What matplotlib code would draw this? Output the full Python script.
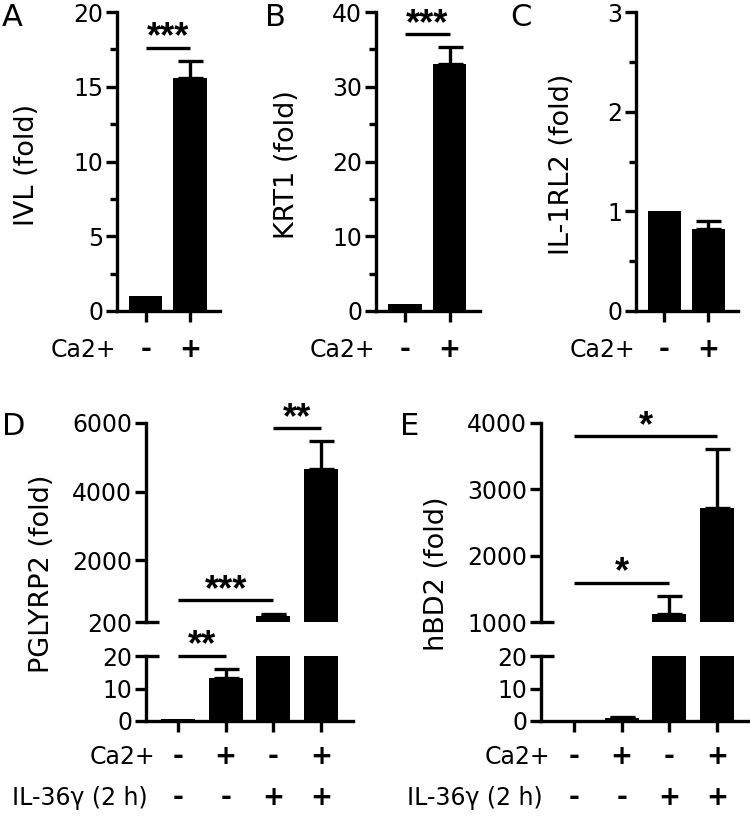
import matplotlib
matplotlib.use("Agg")
import matplotlib.pyplot as plt
import numpy as np

plt.rcParams['font.family'] = ['DejaVu Sans']

# ---- data ----
ca_top = ["-", "+"]

ivl_vals = [1.0, 15.6]
ivl_err = [0.0, 1.15]

krt1_vals = [0.9, 33.0]
krt1_err = [0.0, 2.3]

il1rl2_vals = [1.0, 0.82]
il1rl2_err = [0.0, 0.08]

ca_bottom = ["-", "+", "-", "+"]
il36_bottom = ["-", "-", "+", "+"]

pglyrp2_vals = [0.5, 13.2, 370.0, 4650.0]
pglyrp2_err = [0.0, 2.8, 60.0, 830.0]

hbd2_vals = [0.3, 0.9, 1120.0, 2720.0]
hbd2_err = [0.0, 0.2, 275.0, 890.0]

LW = 2.4
TICK_FS = 17
LABEL_FS = 19.5
SIGN_FS = 19
STAR_FS = 26
LETTER_FS = 22

fig = plt.figure(figsize=(7.5, 8.17), dpi=100)


def style_axis(ax, bottom=True):
    for s in ['top', 'right']:
        ax.spines[s].set_visible(False)
    ax.spines['left'].set_linewidth(LW)
    ax.spines['bottom'].set_linewidth(LW)
    if not bottom:
        ax.spines['bottom'].set_visible(False)
    ax.tick_params(axis='y', which='major', direction='out', length=8, width=LW,
                   labelsize=TICK_FS, pad=2)
    ax.tick_params(axis='y', which='minor', direction='out', length=5, width=LW)
    ax.tick_params(axis='x', direction='out', length=8, width=LW, labelbottom=False)
    if not bottom:
        ax.tick_params(axis='x', bottom=False)


def draw_bars(ax, vals, err, width):
    x = np.arange(len(vals))
    ax.bar(x, vals, width=width, color='black', zorder=2)
    err = np.asarray(err)
    m = err > 0
    ax.errorbar(x[m], np.asarray(vals)[m], yerr=[np.zeros(m.sum()), err[m]],
                fmt='none', ecolor='black', elinewidth=LW, capsize=9, capthick=LW,
                zorder=3)
    ax.set_xticks(x)


def sig(ax, x1, x2, y, stars, clip=False):
    ax.plot([x1, x2], [y, y], color='black', lw=LW, clip_on=clip, solid_capstyle='butt')
    ax.annotate(stars, xy=((x1 + x2) / 2, y), xytext=(0, -5.5), textcoords='offset points',
                ha='center', va='bottom', fontsize=STAR_FS, fontweight='bold',
                family='Liberation Sans', annotation_clip=False)


# ---- top row ----
top_h = 299 / 817
top_b = 1 - 311 / 817
top_specs = [
    (117, 103, ivl_vals, ivl_err, 20, 5, 2.5, "IVL (fold)", "A", 2, -0.75),
    (376, 104, krt1_vals, krt1_err, 40, 10, 5, "KRT1 (fold)", "B", 265, -0.73),
    (636, 102, il1rl2_vals, il1rl2_err, 3, 1, 0.5, "IL-1RL2 (fold)", "C", 510, -0.60),
]
top_axes = []
for left, w, vals, err, ymax, major, minor, ylab, letter, lx, labx in top_specs:
    ax = fig.add_axes([left / 750, top_b, w / 750, top_h])
    draw_bars(ax, vals, err, 0.75)
    ax.set_xlim(-0.65, 1.68)
    ax.set_ylim(0, ymax)
    ax.set_yticks(np.arange(0, ymax + major / 2, major))
    ax.set_yticks(np.arange(0, ymax + minor / 2, minor), minor=True)
    style_axis(ax)
    ax.set_ylabel(ylab, fontsize=LABEL_FS)
    ax.yaxis.set_label_coords(labx, 0.49)
    tr = ax.get_xaxis_transform()
    for i, s in enumerate(ca_top):
        ax.text(i, -0.13, s, transform=tr, ha='center', va='center', fontsize=SIGN_FS,
                fontweight='bold')
    ax.text(-0.005, -0.13, "Ca2+", transform=ax.transAxes, ha='right', va='center',
            fontsize=TICK_FS)
    fig.text(lx / 750, 1 - 3 / 817, letter, fontsize=LETTER_FS, va='top', ha='left')
    top_axes.append(ax)

sig(top_axes[0], 0, 1, 17.6, "***")
sig(top_axes[1], 0, 1, 37.0, "***")

# ---- bottom row (broken axes) ----
up_b = 1 - 622 / 817
up_h = 199 / 817
lo_b = 1 - 721 / 817
lo_h = 65 / 817


def broken_panel(left, vals, err, ylo, yhi, upticks, ylab, letter, lx, xl):
    axu = fig.add_axes([left / 750, up_b, 207 / 750, up_h])
    axl = fig.add_axes([left / 750, lo_b, 207 / 750, lo_h])
    for ax in (axu, axl):
        draw_bars(ax, vals, err, 0.71)
        ax.set_xlim(*xl)
    axu.set_ylim(ylo, yhi)
    axu.set_yticks(upticks)
    axl.set_ylim(0, 20)
    axl.set_yticks([0, 10, 20])
    style_axis(axu, bottom=False)
    style_axis(axl)
    # inward part of the break ticks
    d = 0.27
    axu.plot([xl[0], xl[0] + d], [ylo, ylo], color='black', lw=LW, clip_on=False,
             solid_capstyle='butt')
    axl.plot([xl[0], xl[0] + d], [20, 20], color='black', lw=LW, clip_on=False,
             solid_capstyle='butt')
    fig.text((left - 104) / 750, 1 - 574 / 817, ylab, rotation=90, fontsize=LABEL_FS,
             ha='center', va='center')
    tr = axl.get_xaxis_transform()
    for i in range(len(vals)):
        axl.text(i, -0.554, ca_bottom[i], transform=tr, ha='center', va='center',
                 fontsize=SIGN_FS, fontweight='bold')
        axl.text(i, -1.185, il36_bottom[i], transform=tr, ha='center', va='center',
                 fontsize=SIGN_FS, fontweight='bold')
    axl.text(0.045, -0.554, "Ca2+", transform=axl.transAxes, ha='right', va='center',
             fontsize=TICK_FS)
    axl.text(0.01, -1.185, "IL-36γ (2 h)", transform=axl.transAxes, ha='right',
             va='center', fontsize=TICK_FS)
    fig.text(lx / 750, 1 - 412 / 817, letter, fontsize=LETTER_FS, va='top', ha='left')
    return axu, axl


d_up, d_lo = broken_panel(146, pglyrp2_vals, pglyrp2_err, 200, 6000,
                          [200, 2000, 4000, 6000], "PGLYRP2 (fold)", "D", 2,
                          (-0.67, 3.67))
sig(d_lo, 0, 1, 20, "**")
sig(d_up, 0, 2, 840, "***")
sig(d_up, 2, 3, 5850, "**")

e_up, e_lo = broken_panel(541, hbd2_vals, hbd2_err, 1000, 4000,
                          [1000, 2000, 3000, 4000], "hBD2 (fold)", "E", 400,
                          (-0.69, 3.65))
sig(e_up, 0, 2, 1590, "*")
sig(e_up, 0, 3, 3800, "*")

fig.savefig("out.png", dpi=100)
